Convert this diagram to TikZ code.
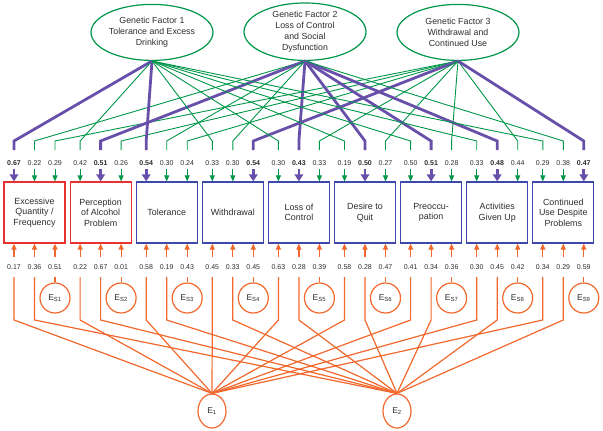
\documentclass[tikz,border=0pt]{standalone}
\usepackage{fontspec}
\setmainfont{Liberation Sans}
\usetikzlibrary{arrows.meta,shapes.geometric,positioning}

\definecolor{gfgreen}{RGB}{0,150,72}
\definecolor{gfpurple}{RGB}{104,80,170}
\definecolor{boxred}{RGB}{232,50,50}
\definecolor{boxblue}{RGB}{62,72,170}
\definecolor{errorange}{RGB}{242,104,44}
\definecolor{txtgray}{RGB}{45,45,45}

\begin{document}
\begin{tikzpicture}[x=1pt,y=-1pt,node distance=66.1pt,on grid,
  every node/.style={text=txtgray},
  factor/.style={ellipse,draw=gfgreen,line width=1.2pt,minimum width=122pt,minimum height=56pt,
    inner sep=0pt,align=center,anchor=south,font=\fontsize{8.8}{10.8}\selectfont},
  item/.style={rectangle,draw=boxblue,line width=1.2pt,minimum width=61pt,minimum height=61pt,
    inner sep=1pt,align=center,font=\fontsize{8.9}{10.6}\selectfont},
  toplbl/.style={inner sep=0pt,minimum height=12pt,font=\fontsize{7}{8}\selectfont},
  botlbl/.style={inner sep=0pt,minimum height=20pt,font=\fontsize{7}{8}\selectfont},
  esnode/.style={circle,draw=errorange,line width=1.2pt,minimum size=30pt,inner sep=0pt,
    font=\fontsize{8.5}{9}\selectfont},
  enode/.style={ellipse,draw=errorange,line width=1.2pt,minimum width=28pt,minimum height=34pt,
    inner sep=0pt,font=\fontsize{8.5}{9}\selectfont},
  side/.style={draw=gfgreen,line width=0.9pt},
  main/.style={draw=gfpurple,line width=2.8pt},
  sidetip/.style={-{Triangle[width=5pt,length=6pt]}},
  maintip/.style={-{Triangle[width=8.5pt,length=7pt]}},
  errline/.style={draw=errorange,line width=1.2pt}]

\useasboundingbox (0,0) rectangle (603,431);

% levels for the bends
\coordinate (lvlA) at (0,141);
\coordinate (lvlB) at (0,150);
\coordinate (lvlC) at (0,320);

\node[factor] (f1) at (152,61) {Genetic Factor 1\\Tolerance and Excess\\Drinking};
\node[factor] (f2) at (305,61) {Genetic Factor 2\\Loss of Control\\and Social\\Dysfunction};
\node[factor] (f3) at (458,61) {Genetic Factor 3\\Withdrawal and\\Continued Use};

\node[item,draw=boxred] (b1) at (34.5,212.5) {Excessive\\Quantity /\\Frequency};
\node[item,draw=boxred] (b2) [right of=b1] {Perception\\of Alcohol\\Problem};
\node[item] (b3) [right of=b2] {Tolerance};
\node[item] (b4) [right of=b3] {Withdrawal};
\node[item] (b5) [right of=b4] {Loss of\\Control};
\node[item] (b6) [right of=b5] {Desire to\\Quit};
\node[item] (b7) [right of=b6] {Preoccu-\\pation};
\node[item] (b8) [right of=b7] {Activities\\Given Up};
\node[item] (b9) [right of=b8] {Continued\\Use Despite\\Problems};

\node[enode] (E1) at (212,411) {E\textsubscript{1}};
\node[enode] (E2) at (397,411) {E\textsubscript{2}};

% box / loadings (top) / error loadings (bottom) / main factor / specific error
\foreach \i/\ta/\tb/\tc/\ea/\eb/\ec/\p/\s in {
  1/0.67/0.22/0.29/0.17/0.36/0.51/1/S1,
  2/0.42/0.51/0.26/0.22/0.67/0.01/2/S2,
  3/0.54/0.30/0.24/0.58/0.19/0.43/1/S3,
  4/0.33/0.30/0.54/0.45/0.33/0.45/3/S4,
  5/0.30/0.43/0.33/0.63/0.28/0.39/2/S5,
  6/0.19/0.50/0.27/0.58/0.28/0.47/2/S6,
  7/0.50/0.51/0.28/0.41/0.34/0.36/2/S7,
  8/0.33/0.48/0.44/0.30/0.45/0.42/2/S8,
  9/0.29/0.38/0.47/0.34/0.29/0.59/3/S9}{
  \path (b\i.center) ++(20.5,85.5) node[esnode] (s\i) {E\textsubscript{\s}};
  \foreach \k/\t/\e in {1/\ta/\ea,2/\tb/\eb,3/\tc/\ec}{
    \ifnum\k=\p\relax \def\ld{main}\def\tip{maintip}\else \def\ld{side}\def\tip{sidetip}\fi
    \path (b\i.center) ++({(\k-2)*20.5},-49.5)
      node[toplbl] (n\i\k) {\ifnum\k=\p\relax\textbf{\t}\else\t\fi};
    \coordinate (u\i\k) at (n\i\k |- lvlB);
    \draw[\ld] (f\k.south) -- (n\i\k |- lvlA) -- (u\i\k);
    \draw[\ld,\tip] (n\i\k) -- (n\i\k |- b\i.north);
    \path (b\i.center) ++({(\k-2)*20.5},54.5) node[botlbl] (m\i\k) {\e};
    \draw[errline,sidetip] (m\i\k) -- (m\i\k |- b\i.south);
    \ifnum\k<3
      \draw[errline] (m\i\k.south) -- (m\i\k |- lvlC) -- (E\k.north);
    \else
      \draw[errline] (m\i\k) -- (s\i);
    \fi
  }
}

\end{tikzpicture}
\end{document}
